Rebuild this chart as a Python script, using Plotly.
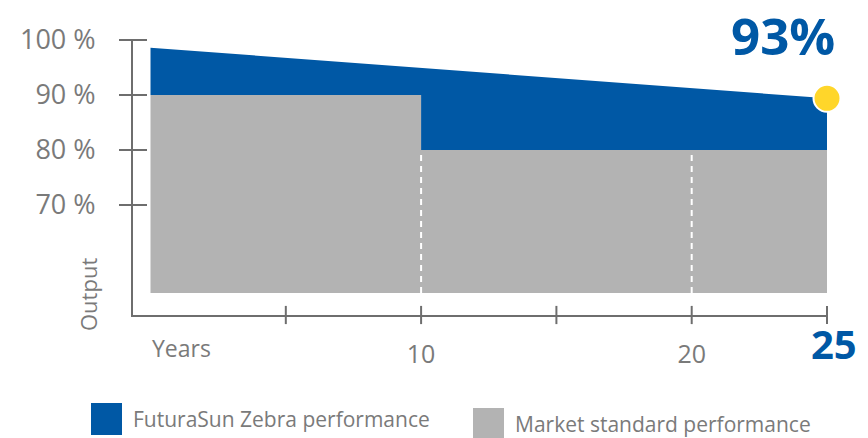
import plotly.graph_objects as go

# ---------------- data ----------------
zebra_years = [0, 25]
zebra_output = [98.6, 89.4]          # FuturaSun Zebra performance (%)

market_years = [0, 10, 25]
market_output = [90, 80, 80]         # Market standard performance (%), step
base_output = 54                     # bottom of the areas (%)

divider_years = [10, 20]
x_tick_marks = [5, 10, 15, 20, 25]
x_tick_vals = [10, 20]
x_tick_text = ["10", "20"]
y_tick_vals = [70, 80, 90, 100]
y_tick_text = ["70 %", "80 %", "90 %", "100 %"]

end_year = 25
end_value_label = "93%"
end_year_label = "25"
legend_names = ["FuturaSun Zebra performance", "Market standard performance"]

# ---------------- styles ----------------
BLUE = "#0058A5"
GRAY = "#B3B3B3"
AXIS = "#6E6E6E"
TXT = "#7A7A7A"
YELLOW = "#FFD62A"
FONT = "Open Sans"

W, H = 868, 438
L, R, T, B = 133, 41, 40, 123
XR = [-0.647, 25]
YR = [50, 100]
PW, PH = W - L - R, H - T - B


def px_x(px):
    return (px - L) / PW


def px_y(py):
    return (H - B - py) / PH


fig = go.Figure()

# base line for market area
fig.add_trace(go.Scatter(x=[market_years[0], market_years[-1]], y=[base_output, base_output],
                         mode="lines", line=dict(width=0), hoverinfo="skip", showlegend=False))
# market standard (gray step area)
fig.add_trace(go.Scatter(x=market_years, y=market_output, mode="lines", line_shape="hv",
                         line=dict(width=0, color=GRAY), fill="tonexty", fillcolor=GRAY,
                         name=legend_names[1], showlegend=False))
# zebra (blue area above gray)
fig.add_trace(go.Scatter(x=zebra_years, y=zebra_output, mode="lines",
                         line=dict(width=0, color=BLUE), fill="tonexty", fillcolor=BLUE,
                         name=legend_names[0], showlegend=False))

# dashed white dividers in the gray area
for yr in divider_years:
    top = market_output[0] if yr < market_years[1] else market_output[-1]
    fig.add_trace(go.Scatter(x=[yr, yr], y=[base_output, top], mode="lines",
                             line=dict(color="white", width=2, dash="6px,5px"),
                             hoverinfo="skip", showlegend=False))

# cross ticks on y axis
fig.add_trace(go.Scatter(x=[XR[0]] * len(y_tick_vals), y=y_tick_vals, mode="markers",
                         marker=dict(symbol="line-ew", size=20, line=dict(color=AXIS, width=2)),
                         cliponaxis=False, hoverinfo="skip", showlegend=False))
# cross ticks on x axis
fig.add_trace(go.Scatter(x=x_tick_marks, y=[YR[0]] * len(x_tick_marks), mode="markers",
                         marker=dict(symbol="line-ns", size=13, line=dict(color=AXIS, width=2)),
                         cliponaxis=False, hoverinfo="skip", showlegend=False))

# yellow end dot
fig.add_trace(go.Scatter(x=[end_year], y=[zebra_output[-1]], mode="markers",
                         marker=dict(size=27, color=YELLOW, line=dict(color="white", width=2)),
                         cliponaxis=False, hoverinfo="skip", showlegend=False))

fig.update_xaxes(range=XR, showline=True, linecolor=AXIS, linewidth=2, showgrid=False,
                 zeroline=False, tickvals=x_tick_vals, ticktext=x_tick_text, ticks="",
                 tickfont=dict(family=FONT, size=25, color=TXT), ticklabelstandoff=16)
fig.update_yaxes(range=YR, showline=True, linecolor=AXIS, linewidth=2, showgrid=False,
                 zeroline=False, tickvals=y_tick_vals, ticktext=y_tick_text, ticks="",
                 tickfont=dict(family=FONT, size=27, color=TXT), ticklabelstandoff=30)

ann = []
ann.append(dict(text=end_value_label, xref="paper", yref="paper", x=px_x(783), y=px_y(35),
                xanchor="center", yanchor="middle", showarrow=False, borderpad=0,
                font=dict(family=FONT, size=51, color=BLUE, weight="bold")))
ann.append(dict(text=end_year_label, x=end_year, xref="x", yref="paper", y=px_y(343),
                xshift=7, xanchor="center", yanchor="middle", showarrow=False,
                font=dict(family=FONT, size=40, color=BLUE, weight="bold")))
ann.append(dict(text="Years", xref="paper", yref="paper", x=px_x(150), y=px_y(348),
                xanchor="left", yanchor="middle", showarrow=False,
                font=dict(family=FONT, size=23, color=TXT)))
ann.append(dict(text="Output", xref="paper", yref="paper", x=px_x(88), y=px_y(295),
                xanchor="center", yanchor="middle", textangle=-90, showarrow=False,
                font=dict(family=FONT, size=22, color=TXT)))
ann.append(dict(text=legend_names[0], xref="paper", yref="paper", x=px_x(131), y=px_y(419),
                xanchor="left", yanchor="middle", showarrow=False,
                font=dict(family=FONT, size=21, color=TXT)))
ann.append(dict(text=legend_names[1], xref="paper", yref="paper", x=px_x(513), y=px_y(424),
                xanchor="left", yanchor="middle", showarrow=False,
                font=dict(family=FONT, size=21, color=TXT)))

shapes = [
    dict(type="rect", xref="paper", yref="paper", x0=px_x(91), x1=px_x(122), y0=px_y(435), y1=px_y(403),
         fillcolor=BLUE, line=dict(width=0)),
    dict(type="rect", xref="paper", yref="paper", x0=px_x(473), x1=px_x(504), y0=px_y(441), y1=px_y(408),
         fillcolor=GRAY, line=dict(width=0)),
]

fig.update_layout(width=W, height=H, margin=dict(l=L, r=R, t=T, b=B),
                  plot_bgcolor="white", paper_bgcolor="white",
                  annotations=ann, shapes=shapes, showlegend=False)

fig.write_html("out.html")
